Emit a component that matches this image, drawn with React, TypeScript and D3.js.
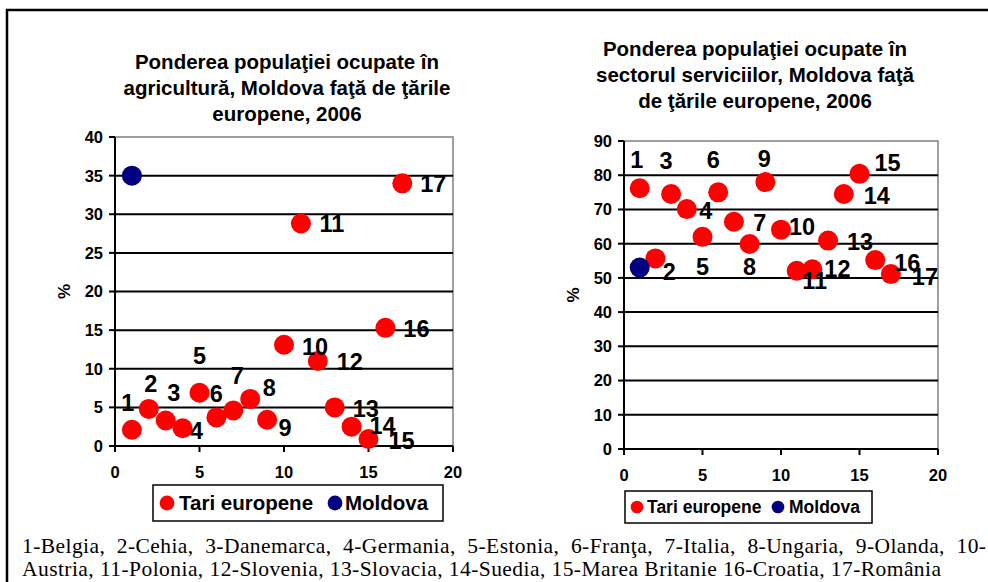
import React from "react";
import * as d3 from "d3";

// ---------- DATA ----------
const countryIds = [1, 2, 3, 4, 5, 6, 7, 8, 9, 10, 11, 12, 13, 14, 15, 16, 17];
const agriValues = [2.1, 4.8, 3.3, 2.3, 6.9, 3.7, 4.6, 6.1, 3.4, 13.1, 28.8, 11.0, 5.0, 2.5, 0.9, 15.3, 34.0];
const agriMoldova = { x: 1, y: 35 };
const servValues = [76.2, 55.7, 74.5, 70.1, 62.0, 75.0, 66.4, 59.9, 78.0, 64.1, 52.1, 52.5, 60.9, 74.5, 80.4, 55.2, 51.1];
const servMoldova = { x: 1, y: 53 };

const xTicks = [0, 5, 10, 15, 20];
const agriYTicks = [0, 5, 10, 15, 20, 25, 30, 35, 40];
const servYTicks = [0, 10, 20, 30, 40, 50, 60, 70, 80, 90];

const agriTitle = ["Ponderea populaţiei ocupate în", "agricultură, Moldova faţă de ţările", "europene, 2006"];
const servTitle = ["Ponderea populaţiei ocupate în", "sectorul serviciilor, Moldova faţă", "de ţările europene, 2006"];
const seriesNames = ["Tari europene", "Moldova"];
const footnote = [
  "1-Belgia,  2-Cehia,  3-Danemarca,  4-Germania,  5-Estonia,  6-Franţa,  7-Italia,  8-Ungaria,  9-Olanda,  10-",
  "Austria, 11-Polonia, 12-Slovenia, 13-Slovacia, 14-Suedia, 15-Marea Britanie 16-Croatia, 17-România",
];

// label placement offsets (px, relative to point centre)
const agriLabelOffsets = [
  [-4, -27], [2, -25], [8, -28], [14, 2], [0, -37], [0, -24], [4, -35], [19, -11], [18, 8],
  [31, 2], [31, 0], [32, 1], [31, 1], [31, -1], [33, 1], [31, 1], [31, 0],
];
const servLabelOffsets = [
  [-3, -29], [14, 13], [-5, -34], [19, 1], [0, 30], [-5, -33], [26, 1], [0, 23], [-1, -24],
  [21, -3], [18, 10], [25, -1], [32, 1], [33, 1], [28, -11], [32, 2], [34, 2],
];

const RED = "#ff0000";
const NAVY = "#000080";
const SANS = "Arial, 'Liberation Sans', Helvetica, sans-serif";

type PanelProps = {
  title: string[];
  titleCx: number;
  titleY0: number;
  x0: number; x1: number; y0: number; y1: number;
  yMax: number;
  yTicks: number[];
  values: number[];
  moldova: { x: number; y: number };
  offsets: number[][];
  pctX: number;
  legend: { x: number; y: number; w: number; h: number; fs: number; m1: number; t1: number; m2: number; t2: number };
  xLabelY: number;
};

function Panel(p: PanelProps) {
  const x = d3.scaleLinear().domain([0, 20]).range([p.x0, p.x1]);
  const y = d3.scaleLinear().domain([0, p.yMax]).range([p.y0, p.y1]);
  const r = 10;
  const lg = p.legend;
  return (
    <g fontFamily={SANS}>
      {p.title.map((t, i) => (
        <text key={i} x={p.titleCx} y={p.titleY0 + i * 26} textAnchor="middle" fontSize={20.5} fontWeight="bold" fill="#000">
          {t}
        </text>
      ))}
      {/* plot border */}
      <rect x={p.x0} y={p.y1} width={p.x1 - p.x0} height={p.y0 - p.y1} fill="none" stroke="#808080" strokeWidth={1.5} />
      {/* grid lines */}
      {p.yTicks.filter((t) => t > 0 && t < p.yMax).map((t) => (
        <line key={t} x1={p.x0} x2={p.x1} y1={y(t)} y2={y(t)} stroke="#000" strokeWidth={2} />
      ))}
      {/* axes */}
      <line x1={p.x0} x2={p.x0} y1={p.y1} y2={p.y0} stroke="#000" strokeWidth={2} />
      <line x1={p.x0} x2={p.x1} y1={p.y0} y2={p.y0} stroke="#000" strokeWidth={2} />
      {p.yTicks.map((t) => (
        <g key={t}>
          <line x1={p.x0 - 6} x2={p.x0} y1={y(t)} y2={y(t)} stroke="#000" strokeWidth={2} />
          <text x={p.x0 - 12} y={y(t)} dy="0.36em" textAnchor="end" fontSize={16.5} fontWeight="bold">
            {t}
          </text>
        </g>
      ))}
      {xTicks.map((t) => (
        <g key={t}>
          <line x1={x(t)} x2={x(t)} y1={p.y0} y2={p.y0 + 6} stroke="#000" strokeWidth={2} />
          <text x={x(t)} y={p.xLabelY} dy="0.36em" textAnchor="middle" fontSize={16.5} fontWeight="bold">
            {t}
          </text>
        </g>
      ))}
      <text
        transform={`translate(${p.pctX},${(p.y0 + p.y1) / 2}) rotate(-90)`}
        textAnchor="middle"
        dy="0.35em"
        fontSize={17}
        fontWeight="bold"
      >
        %
      </text>
      {/* points */}
      {p.values.map((v, i) => (
        <circle key={i} cx={x(countryIds[i])} cy={y(v)} r={r} fill={RED} />
      ))}
      <circle cx={x(p.moldova.x)} cy={y(p.moldova.y)} r={r} fill={NAVY} />
      {p.values.map((v, i) => (
        <text
          key={"l" + i}
          x={x(countryIds[i]) + p.offsets[i][0]}
          y={y(v) + p.offsets[i][1]}
          dy="0.36em"
          textAnchor="middle"
          fontSize={23.5}
          fontWeight="bold"
        >
          {countryIds[i]}
        </text>
      ))}
      {/* legend */}
      <rect x={lg.x} y={lg.y} width={lg.w} height={lg.h} fill="#fff" stroke="#000" strokeWidth={1.5} />
      <circle cx={lg.m1} cy={lg.y + lg.h / 2} r={lg.fs * 0.36} fill={RED} />
      <text x={lg.t1} y={lg.y + lg.h / 2} dy="0.36em" fontSize={lg.fs} fontWeight="bold">
        {seriesNames[0]}
      </text>
      <circle cx={lg.m2} cy={lg.y + lg.h / 2} r={lg.fs * 0.36} fill={NAVY} />
      <text x={lg.t2} y={lg.y + lg.h / 2} dy="0.36em" fontSize={lg.fs} fontWeight="bold">
        {seriesNames[1]}
      </text>
    </g>
  );
}

export default function App() {
  return (
    <svg
      width={988}
      height={582}
      style={{ position: "absolute", left: 0, top: 0, background: "#fff" }}
    >
      <rect x={0} y={0} width={988} height={582} fill="#fff" />
      <rect x={7} y={10} width={1000} height={600} fill="none" stroke="#000" strokeWidth={2.5} />
      <Panel
        title={agriTitle}
        titleCx={287}
        titleY0={69}
        x0={115} x1={453} y0={446} y1={137}
        yMax={40}
        yTicks={agriYTicks}
        values={agriValues}
        moldova={agriMoldova}
        offsets={agriLabelOffsets}
        pctX={64}
        legend={{ x: 153, y: 485, w: 290, h: 36, fs: 20.5, m1: 167, t1: 179, m2: 335, t2: 345 }}
        xLabelY={472}
      />
      <Panel
        title={servTitle}
        titleCx={755}
        titleY0={56}
        x0={624} x1={938} y0={449} y1={141}
        yMax={90}
        yTicks={servYTicks}
        values={servValues}
        moldova={servMoldova}
        offsets={servLabelOffsets}
        pctX={573}
        legend={{ x: 625, y: 491, w: 247, h: 32, fs: 17.5, m1: 637, t1: 647, m2: 778, t2: 789 }}
        xLabelY={475}
      />
      <g fontFamily="'Times New Roman', 'Liberation Serif', serif" fontSize={21.5} fill="#000">
        <text x={22} y={553} textLength={964} lengthAdjust="spacing" style={{ whiteSpace: "pre" }}>
          {footnote[0]}
        </text>
        <text x={22} y={576} textLength={919} lengthAdjust="spacing">
          {footnote[1]}
        </text>
      </g>
    </svg>
  );
}
